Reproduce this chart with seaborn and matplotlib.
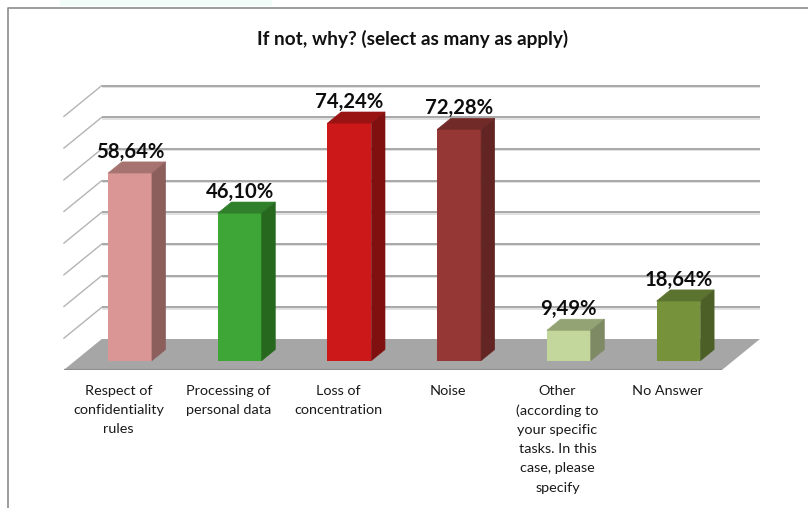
import matplotlib
matplotlib.use("Agg")
import matplotlib.pyplot as plt
import matplotlib.patheffects as pe
from matplotlib.lines import Line2D
from matplotlib.patches import Polygon, Rectangle
import pandas as pd
import seaborn as sns

title = "If not, why? (select as many as apply)"
categories = [
    "Respect of\nconfidentiality\nrules",
    "Processing of\npersonal data",
    "Loss of\nconcentration",
    "Noise",
    "Other\n(according to\nyour specific\ntasks. In this\ncase, please\nspecify",
    "No Answer",
]
values = [58.64, 46.10, 74.24, 72.28, 9.49, 18.64]
value_labels = ["58,64%", "46,10%", "74,24%", "72,28%", "9,49%", "18,64%"]
front_colors = ["#DA9694", "#3EA537", "#CC1818", "#953735", "#C3D69B", "#76933C"]
top_colors = ["#A67370", "#30802B", "#991313", "#722A28", "#94A374", "#5C7330"]
side_colors = ["#8C5F5D", "#27681F", "#801010", "#632523", "#7D8A64", "#4C5F27"]
gridline_values = [10, 20, 30, 40, 50, 60, 70, 80]

# Pixel layout of the oblique 3D projection
W, H = 808, 508
UNIT_X = 109.7          # px per category
UNIT_Y = 3.2            # px per percent
GRID_SCALE = 0.99       # the back wall is slightly further away than the bars
FIRST_BAR_X = 130.0     # px of first bar centre
BASE_Y = 360.7          # px of the bar base
DEPTH_X, DEPTH_Y = 38 / UNIT_X, 31 / UNIT_Y   # floor depth in data units
BAR_PLANE = 0.30        # bars' front face, as fraction of floor depth
BAR_DEPTH = 0.36
BAR_WIDTH = 0.40
AX_LEFT, AX_TOP, AX_BOTTOM = 8, 8, 370

sns.set_theme(style="white")
plt.rcParams["font.family"] = ["Lato", "DejaVu Sans"]

fig = plt.figure(figsize=(W / 100, H / 100), dpi=100, facecolor="white")
ax = fig.add_axes([AX_LEFT / W, (H - AX_BOTTOM) / H, (W - AX_LEFT) / W, (AX_BOTTOM - AX_TOP) / H])

df = pd.DataFrame({"category": categories, "value": values})
sns.barplot(data=df, x="category", y="value", hue="category", palette=front_colors,
            width=BAR_WIDTH, saturation=1, legend=False, linewidth=0, ax=ax, zorder=3)
bars = sorted(ax.patches, key=lambda p: p.get_x())

ax.set_xlim((AX_LEFT - FIRST_BAR_X) / UNIT_X, (W - FIRST_BAR_X) / UNIT_X)
ax.set_ylim((BASE_Y - AX_BOTTOM) / UNIT_Y, (BASE_Y - AX_TOP) / UNIT_Y)
ax.set_xlabel("")
ax.set_ylabel("")
ax.set_yticks([])
for s in ax.spines.values():
    s.set_visible(False)
ax.patch.set_alpha(0)


def project(slot_x, val, depth):
    """Slot coordinate + value + depth (0 front .. 1 back) to data coordinates."""
    return slot_x + depth * DEPTH_X, val + (depth - BAR_PLANE) * DEPTH_Y


offset = BAR_PLANE * DEPTH_X
slot_left = -0.5 - offset
slot_right = len(categories) - 0.5 - offset

# category labels sit under the front edge of the floor
ax.set_xticks([i - offset for i in range(len(categories))])
ax.set_xticklabels(categories, fontsize=10.4, color="#1a1a1a", linespacing=1.72, va="top")
ax.tick_params(axis="x", length=0, pad=10.5)

# floor
floor = [project(slot_left, 0, 0), project(slot_right, 0, 0),
         project(slot_right, 0, 1), project(slot_left, 0, 1)]
ax.add_patch(Polygon(floor, closed=True, fc="#A6A6A6", ec="none", zorder=1))
ax.plot(*zip(project(slot_left, 0, 0), project(slot_right, 0, 0)), color="#8E8E8E", lw=1.6,
        solid_capstyle="butt", zorder=1.1)

# gridlines: the left wall (thin) and the back wall
shadow = [pe.SimpleLineShadow(offset=(0, -1), shadow_color="#000000", alpha=0.12), pe.Normal()]
for g in gridline_values:
    gv = g * GRID_SCALE
    ax.plot(*zip(project(slot_left, gv, 0), project(slot_left, gv, 1)),
            color="#B4B4B4", lw=1.0, zorder=2)
    ax.plot(*zip(project(slot_left, gv, 1), project(slot_right, gv, 1)),
            color="#A8A8A8", lw=1.4, solid_capstyle="butt", zorder=2, path_effects=shadow)

# top and side faces, from the bars seaborn drew
for bar, tc, sc, lab in zip(bars, top_colors, side_colors, value_labels):
    x0, x1, v = bar.get_x(), bar.get_x() + bar.get_width(), bar.get_height()
    dx, dy = BAR_DEPTH * DEPTH_X, BAR_DEPTH * DEPTH_Y
    ax.add_patch(Polygon([(x0, v), (x1, v), (x1 + dx, v + dy), (x0 + dx, v + dy)],
                         closed=True, fc=tc, ec=tc, lw=0.4, zorder=3))
    ax.add_patch(Polygon([(x1, 0), (x1 + dx, dy), (x1 + dx, v + dy), (x1, v)],
                         closed=True, fc=sc, ec=sc, lw=0.4, zorder=3))
    ax.annotate(lab, xy=((x0 + x1) / 2, v), xytext=(0, 11), textcoords="offset points",
                ha="center", va="baseline", fontsize=14.6, fontweight="bold", color="#0d0d0d", zorder=5)

ax.set_title(title, fontsize=13.7, fontweight="bold", color="#111111", pad=0,
             x=(413 - AX_LEFT) / (W - AX_LEFT), y=(AX_BOTTOM - 39) / (AX_BOTTOM - AX_TOP), va="center")

# chart frame and the faint tint at the picture's top edge
frame = "#8C8C8C"
fig.add_artist(Line2D([AX_LEFT / W, AX_LEFT / W, 1], [0, (H - AX_TOP) / H, (H - AX_TOP) / H],
                      color=frame, lw=1.2, transform=fig.transFigure))
fig.add_artist(Rectangle((60 / W, (H - 6) / H), 212 / W, 6 / H, fc="#F1FDF9", ec="none",
                         transform=fig.transFigure))

fig.savefig("out.png", dpi=100)
